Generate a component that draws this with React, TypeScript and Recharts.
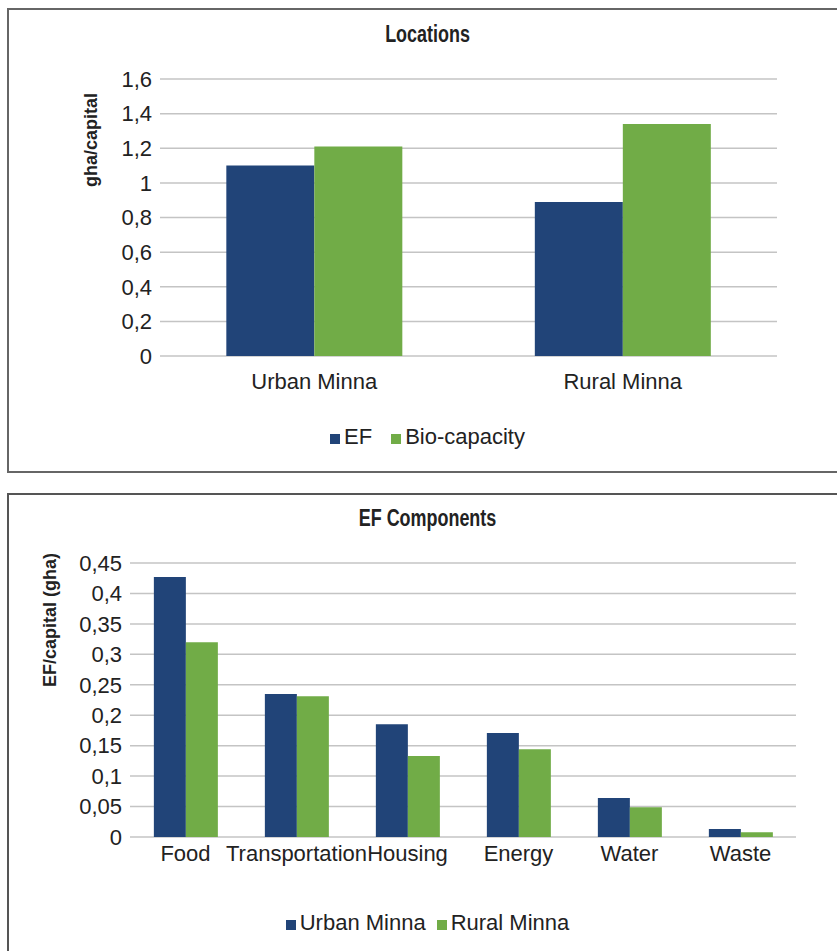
import React from 'react';
import { BarChart, Bar, XAxis, YAxis, CartesianGrid, Legend } from 'recharts';

// top chart: footprint vs bio-capacity per location
const locations = ['Urban Minna', 'Rural Minna'];
const efValues = [1.1, 0.89];
const bioCapacity = [1.21, 1.34];
const locationTicks = [0, 0.2, 0.4, 0.6, 0.8, 1, 1.2, 1.4, 1.6];
const locationSeries = ['EF', 'Bio-capacity'];

// bottom chart: EF components
const components = ['Food', 'Transportation', 'Housing', 'Energy', 'Water', 'Waste'];
const urbanMinna = [0.427, 0.235, 0.185, 0.171, 0.064, 0.013];
const ruralMinna = [0.32, 0.231, 0.133, 0.144, 0.049, 0.008];
const componentTicks = [0, 0.05, 0.1, 0.15, 0.2, 0.25, 0.3, 0.35, 0.4, 0.45];
const componentSeries = ['Urban Minna', 'Rural Minna'];

const BLUE = '#214478';
const GREEN = '#71ac47';
const TEXT = '#222';
const FONT = '"Liberation Sans", Arial, sans-serif';

const commaDecimal = (v: number) => String(v).replace('.', ',');

const locationData = locations.map((name, i) => ({ name, ef: efValues[i], bio: bioCapacity[i] }));
const componentData = components.map((name, i) => ({ name, urban: urbanMinna[i], rural: ruralMinna[i] }));

// recharts sorts legend items by name, so put them back in series order
const SquareLegend = ({ payload, gap, order }: { payload?: any[]; gap: number; order: string[] }) => {
  const items = [...(payload || [])].sort((a, b) => order.indexOf(a.value) - order.indexOf(b.value));
  return (
    <div
      style={{
        textAlign: 'center',
        fontFamily: FONT,
        fontSize: 22,
        lineHeight: '26px',
        color: TEXT,
        whiteSpace: 'nowrap',
      }}
    >
      {items.map((entry, i) => (
        <span key={entry.value} style={{ marginLeft: i ? gap : 0 }}>
          <span
            style={{ display: 'inline-block', width: 10, height: 10, background: entry.color, marginRight: 4 }}
          />
          {entry.value}
        </span>
      ))}
    </div>
  );
};

const axisTitle = (text: string, x: number, y: number) => ({
  content: () => (
    <text
      x={x}
      y={y}
      transform={`rotate(-90 ${x} ${y})`}
      textAnchor="middle"
      fontFamily={FONT}
      fontSize={18}
      fontWeight="bold"
      fill={TEXT}
    >
      {text}
    </text>
  ),
});

const Title = ({ text, top }: { text: string; top: number }) => (
  <div
    style={{
      position: 'absolute',
      left: 0,
      top,
      width: 855,
      textAlign: 'center',
      fontFamily: FONT,
      fontWeight: 'bold',
      fontSize: 23,
      lineHeight: '23px',
      color: TEXT,
      transform: 'scaleX(0.78)',
    }}
  >
    {text}
  </div>
);

const tickStyle = { fontSize: 22, fill: TEXT, fontFamily: FONT };

export default function App() {
  return (
    <div
      style={{
        position: 'fixed',
        left: 0,
        top: 0,
        width: 837,
        height: 951,
        overflow: 'hidden',
        background: '#fff',
        fontFamily: FONT,
      }}
    >
      <div
        style={{
          position: 'absolute',
          left: 7,
          top: 8,
          width: 860,
          height: 465,
          border: '2px solid #666',
          boxSizing: 'border-box',
        }}
      />
      <div
        style={{
          position: 'absolute',
          left: 7,
          top: 493,
          width: 860,
          height: 500,
          border: '2px solid #555',
          boxSizing: 'border-box',
        }}
      />

      <Title text="Locations" top={23} />
      <div style={{ position: 'absolute', left: 0, top: 0 }}>
        <BarChart
          width={855}
          height={472}
          data={locationData}
          margin={{ top: 79, right: 78, bottom: 76, left: 0 }}
          barCategoryGap="21.5%"
          barGap={0}
        >
          <CartesianGrid vertical={false} stroke="#c4c4c4" strokeWidth={1.5} />
          <XAxis
            dataKey="name"
            height={40}
            interval={0}
            axisLine={false}
            tickLine={false}
            tickSize={0}
            tickMargin={17}
            tick={tickStyle}
          />
          <YAxis
            width={160}
            domain={[0, 1.6]}
            ticks={locationTicks}
            interval={0}
            tickFormatter={commaDecimal}
            axisLine={false}
            tickLine={false}
            tickSize={0}
            tickMargin={8}
            tick={tickStyle}
            label={axisTitle('gha/capital', 97, 140)}
          />
          <Bar dataKey="ef" name={locationSeries[0]} fill={BLUE} isAnimationActive={false} />
          <Bar dataKey="bio" name={locationSeries[1]} fill={GREEN} isAnimationActive={false} />
          <Legend
            layout="horizontal"
            verticalAlign="middle"
            align="center"
            wrapperStyle={{ top: 424, left: 0, width: 855 }}
            content={(p: any) => <SquareLegend payload={p.payload} gap={19} order={locationSeries} />}
          />
        </BarChart>
      </div>

      <Title text="EF Components" top={507} />
      <div style={{ position: 'absolute', left: 0, top: 480 }}>
        <BarChart
          width={855}
          height={471}
          data={componentData}
          margin={{ top: 83, right: 59, bottom: 74, left: 0 }}
          barCategoryGap="21.5%"
          barGap={0}
        >
          <CartesianGrid vertical={false} stroke="#c4c4c4" strokeWidth={1.5} />
          <XAxis
            dataKey="name"
            height={40}
            interval={0}
            axisLine={false}
            tickLine={false}
            tickSize={0}
            tickMargin={8}
            tick={tickStyle}
          />
          <YAxis
            width={130}
            domain={[0, 0.45]}
            ticks={componentTicks}
            interval={0}
            tickFormatter={commaDecimal}
            axisLine={false}
            tickLine={false}
            tickSize={0}
            tickMargin={8}
            tick={tickStyle}
            label={axisTitle('EF/capital (gha)', 56, 140)}
          />
          <Bar dataKey="urban" name={componentSeries[0]} fill={BLUE} isAnimationActive={false} />
          <Bar dataKey="rural" name={componentSeries[1]} fill={GREEN} isAnimationActive={false} />
          <Legend
            layout="horizontal"
            verticalAlign="middle"
            align="center"
            wrapperStyle={{ top: 430, left: 0, width: 855 }}
            content={(p: any) => <SquareLegend payload={p.payload} gap={11} order={componentSeries} />}
          />
        </BarChart>
      </div>
    </div>
  );
}
